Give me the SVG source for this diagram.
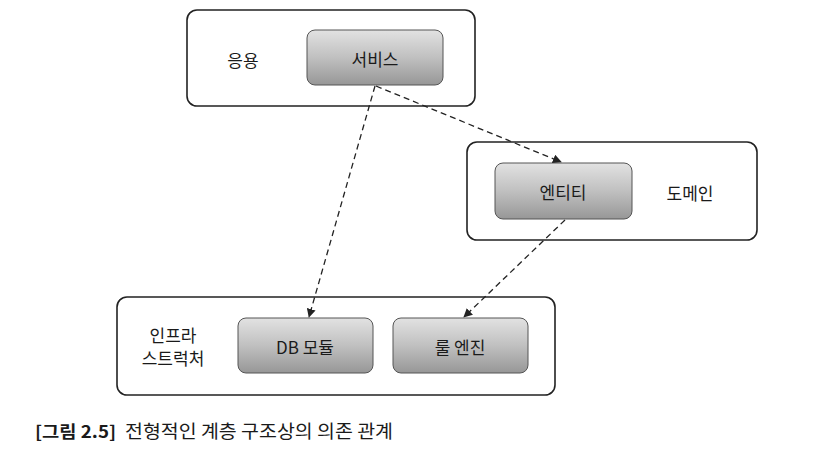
<svg xmlns="http://www.w3.org/2000/svg" width="814" height="449" viewBox="0 0 814 449">
<defs>
<linearGradient id="g" x1="0" y1="0" x2="0" y2="1">
<stop offset="0" stop-color="#e2e2e2"/>
<stop offset="0.5" stop-color="#c0c0c0"/>
<stop offset="1" stop-color="#979797"/>
</linearGradient>
<marker id="ah" viewBox="0 0 10 10" refX="9" refY="5" markerWidth="9" markerHeight="9" orient="auto" markerUnits="userSpaceOnUse">
<path d="M0,0 L10,5 L0,10 z" fill="#222"/>
</marker>
<style>
.outer{fill:#fff;stroke:#222;stroke-width:1.6}
.inner{fill:url(#g);stroke:#555;stroke-width:1}
.t{font-family:"Noto Sans CJK KR","Noto Sans",sans-serif;font-size:17px;fill:#1a1a1a;text-anchor:middle;dominant-baseline:central}
.c{stroke:#222;stroke-width:1.3;stroke-dasharray:6,4;fill:none;marker-end:url(#ah)}
</style>
</defs>
<rect width="814" height="449" fill="#fff"/>
<g id="app">
<rect class="outer" x="187" y="10" width="288" height="96" rx="10"/>
<text class="t" x="243" y="59">응용</text>
</g>
<g id="service">
<rect class="inner" x="307" y="30" width="136" height="55" rx="8"/>
<text class="t" x="375" y="58">서비스</text>
</g>
<g id="domain">
<rect class="outer" x="467" y="142" width="290" height="98" rx="10"/>
<text class="t" x="690" y="192">도메인</text>
</g>
<g id="entity">
<rect class="inner" x="495" y="163" width="137" height="56" rx="8"/>
<text class="t" x="563" y="191">엔티티</text>
</g>
<g id="infra">
<rect class="outer" x="117" y="297" width="438" height="98" rx="10"/>
<text class="t" x="173" y="334">인프라</text>
<text class="t" x="173" y="357">스트럭처</text>
</g>
<g id="db">
<rect class="inner" x="238" y="318" width="135" height="55" rx="8"/>
<text class="t" x="305" y="346">DB 모듈</text>
</g>
<g id="rule">
<rect class="inner" x="393" y="318" width="135" height="55" rx="8"/>
<text class="t" x="460" y="346">룰 엔진</text>
</g>
<g id="connectors">
<line class="c" x1="376" y1="86" x2="561" y2="162"/>
<line class="c" x1="375" y1="86" x2="309" y2="317"/>
<line class="c" x1="565" y1="220" x2="464" y2="317"/>
</g>
<g id="caption">
<text x="35" y="438" font-family="'Noto Sans CJK KR',sans-serif" font-size="17" font-weight="bold" fill="#1a1a1a" textLength="81" lengthAdjust="spacingAndGlyphs">[그림 2.5]</text>
<text x="125" y="438" font-family="'Noto Sans CJK KR',sans-serif" font-size="18" fill="#1a1a1a" textLength="268" lengthAdjust="spacingAndGlyphs">전형적인 계층 구조상의 의존 관계</text>
</g>
</svg>
